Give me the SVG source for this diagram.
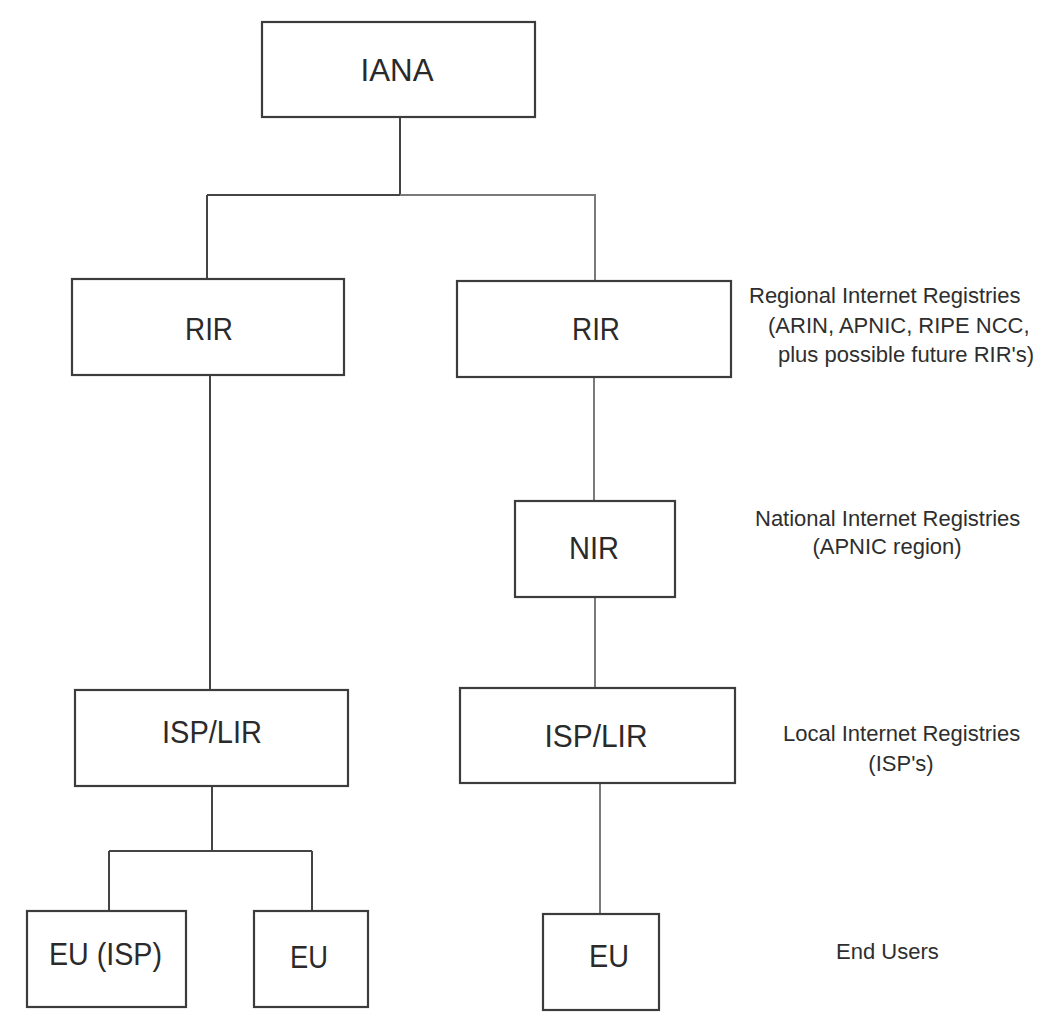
<svg xmlns="http://www.w3.org/2000/svg" width="1063" height="1031" viewBox="0 0 1063 1031">
<style>
.box{fill:#fff;stroke:#3c3c3c;stroke-width:2.2}
.bl{font-family:"Liberation Sans",Arial,sans-serif;font-size:32px;fill:#2a2a2a;text-anchor:middle}
.lab{font-family:"Liberation Sans",Arial,sans-serif;font-size:22px;fill:#2e2e2e}
.c1{fill:none;stroke:#444;stroke-width:2}
.c2{fill:none;stroke:#7a7a7a;stroke-width:2}
</style>
<rect width="1063" height="1031" fill="#fff"/>
<g id="connectors">
<path class="c1" d="M400 117 V195 M207 195 H400"/>
<path class="c2" d="M400 195 H595 V281"/>
<path class="c1" d="M207 195 V279"/>
<path class="c1" d="M210 375 V690"/>
<path class="c2" d="M594 377 V501"/>
<path class="c2" d="M595 597 V688"/>
<path class="c1" d="M212 786 V851 M109 851 H312 M109 851 V911 M312 851 V911"/>
<path class="c2" d="M600 783 V914"/>
</g>
<g id="iana"><rect class="box" x="262" y="22" width="273" height="95"/><text class="bl" x="397" y="81" textLength="73" lengthAdjust="spacingAndGlyphs">IANA</text></g>
<g id="rir-left"><rect class="box" x="72" y="279" width="272" height="96"/><text class="bl" x="209" y="340" textLength="48" lengthAdjust="spacingAndGlyphs">RIR</text></g>
<g id="rir-right"><rect class="box" x="457" y="281" width="274" height="96"/><text class="bl" x="596" y="340" textLength="48" lengthAdjust="spacingAndGlyphs">RIR</text></g>
<g id="nir"><rect class="box" x="515" y="501" width="160" height="96"/><text class="bl" x="594" y="559" textLength="50" lengthAdjust="spacingAndGlyphs">NIR</text></g>
<g id="isp-left"><rect class="box" x="75" y="690" width="273" height="96"/><text class="bl" x="212" y="743" textLength="100" lengthAdjust="spacingAndGlyphs">ISP/LIR</text></g>
<g id="isp-right"><rect class="box" x="460" y="688" width="275" height="95"/><text class="bl" x="596" y="747" textLength="103" lengthAdjust="spacingAndGlyphs">ISP/LIR</text></g>
<g id="eu-isp"><rect class="box" x="27" y="911" width="159" height="96"/><text class="bl" x="105.5" y="965" textLength="113" lengthAdjust="spacingAndGlyphs">EU (ISP)</text></g>
<g id="eu-mid"><rect class="box" x="254" y="911" width="114" height="96"/><text class="bl" x="309" y="968" textLength="38" lengthAdjust="spacingAndGlyphs">EU</text></g>
<g id="eu-right"><rect class="box" x="543" y="914" width="116" height="96"/><text class="bl" x="609" y="967" textLength="40" lengthAdjust="spacingAndGlyphs">EU</text></g>
<g id="labels">
<text class="lab" x="749" y="303">Regional Internet Registries</text>
<text class="lab" x="768" y="333">(ARIN, APNIC, RIPE NCC,</text>
<text class="lab" x="778" y="362">plus possible future RIR's)</text>
<text class="lab" x="755" y="526">National Internet Registries</text>
<text class="lab" x="887" y="554" text-anchor="middle">(APNIC region)</text>
<text class="lab" x="783" y="741">Local Internet Registries</text>
<text class="lab" x="901" y="771" text-anchor="middle">(ISP's)</text>
<text class="lab" x="836" y="959">End Users</text>
</g>
</svg>
